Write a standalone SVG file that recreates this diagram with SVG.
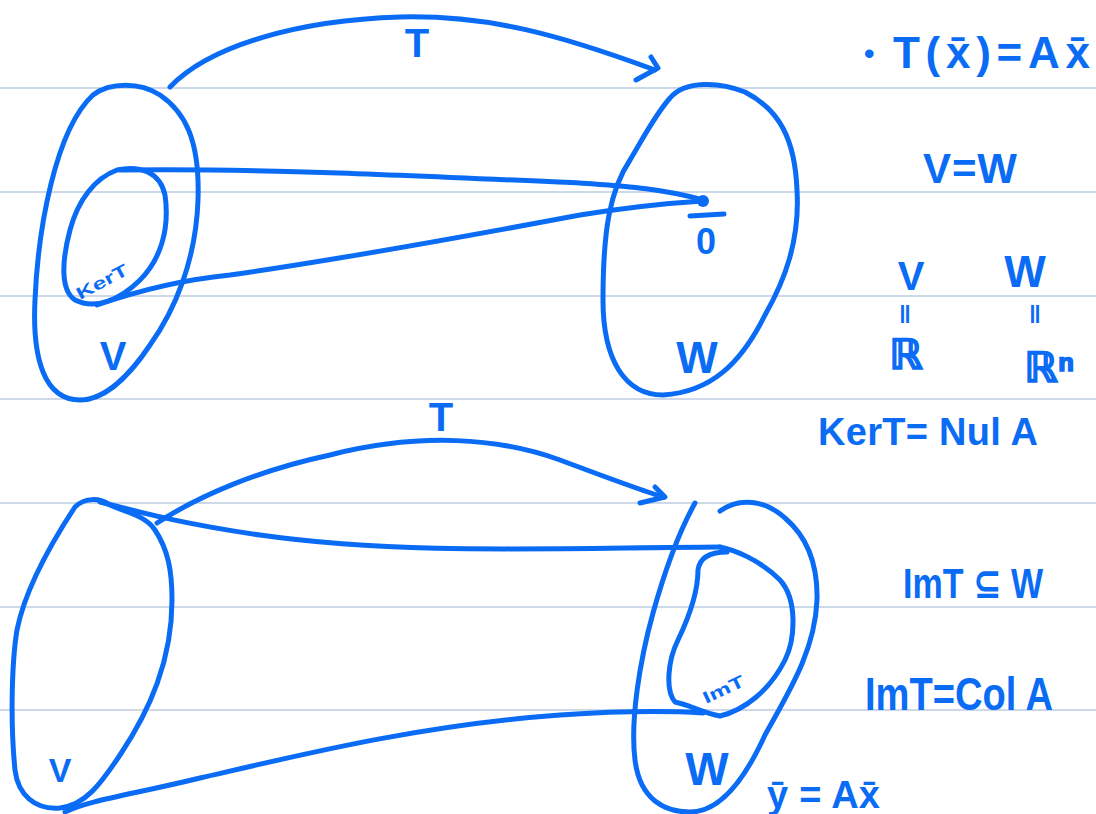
<svg xmlns="http://www.w3.org/2000/svg" width="1096" height="814" viewBox="0 0 1096 814">
<style>
.rule{stroke:#bccbe0;stroke-width:1.5}
.ink{fill:none;stroke:#0a6cf5;stroke-width:5;stroke-linecap:round;stroke-linejoin:round}
.t{fill:#0a6cf5;font-family:"Liberation Sans","DejaVu Sans",sans-serif;font-weight:bold}
.m{text-anchor:middle}
.heavy{stroke:#0a6cf5;stroke-width:1.6}
</style>
<rect width="1096" height="814" fill="#ffffff"/>
<g id="rules">
<line class="rule" x1="0" y1="88" x2="1096" y2="88"/>
<line class="rule" x1="0" y1="192" x2="1096" y2="192"/>
<line class="rule" x1="0" y1="296" x2="1096" y2="296"/>
<line class="rule" x1="0" y1="399" x2="1096" y2="399"/>
<line class="rule" x1="0" y1="503" x2="1096" y2="503"/>
<line class="rule" x1="0" y1="607" x2="1096" y2="607"/>
<line class="rule" x1="0" y1="710" x2="1096" y2="710"/>
</g>
<g id="V_top">
<path class="ink" d="M 93,95 C 110,82 140,82 160,95 C 185,112 200,140 198,200 C 196,260 175,310 150,345 C 130,375 105,400 80,400 C 45,400 32,360 35,300 C 38,230 55,130 93,95 Z"/>
<text class="t m" x="113" y="370" font-size="40">V</text>
</g>
<g id="kerT">
<path class="ink" d="M 117,170 C 140,165 160,172 165,195 C 170,230 160,260 140,280 C 120,300 95,310 75,300 C 60,290 62,260 70,230 C 78,200 95,178 117,170 Z"/>
<text class="t" x="0" y="0" font-size="17" transform="translate(80,300) rotate(-28)" textLength="56" lengthAdjust="spacingAndGlyphs">KerT</text>
</g>
<g id="W_top">
<path class="ink" d="M 670,98 C 685,80 720,82 745,92 C 780,110 795,140 797,190 C 800,240 785,280 765,315 C 740,365 710,392 663,395 C 625,395 603,360 603,300 C 603,230 610,190 630,160 C 645,135 655,115 670,98 Z"/>
<circle cx="703" cy="201" r="6" fill="#0a6cf5"/>
<line class="ink" x1="690" y1="216" x2="724" y2="214"/>
<text class="t m" x="706" y="254" font-size="36">0</text>
<text class="t m" x="697" y="373" font-size="44">W</text>
</g>
<g id="V_bottom">
<path class="ink" d="M 75,507 C 85,497 100,498 110,505 C 125,512 145,515 155,530 C 168,550 172,570 172,600 C 172,660 150,710 120,755 C 100,785 85,805 60,808 C 35,810 18,795 15,770 C 10,720 12,660 17,630 C 25,590 50,545 75,507 Z"/>
<text class="t m" x="60" y="782" font-size="34">V</text>
</g>
<g id="W_bottom">
<path class="ink" d="M 695,503 C 680,530 665,570 653,613 C 640,660 630,720 635,760 C 640,800 665,812 690,812 C 715,812 740,790 765,735 C 790,690 815,650 817,600 C 818,560 805,535 785,518 C 765,500 740,497 720,511"/>
<text class="t m" x="707" y="785" font-size="46">W</text>
</g>
<g id="imT">
<path class="ink" d="M 720,547 C 735,550 760,560 780,580 C 798,600 795,640 785,660 C 770,690 745,710 720,716 C 700,712 690,705 675,702 C 665,690 668,660 678,640 C 690,615 698,590 698,570 C 700,555 715,552 727,552"/>
<text class="t" x="0" y="0" font-size="17" transform="translate(706,704) rotate(-25)" textLength="44" lengthAdjust="spacingAndGlyphs">ImT</text>
</g>
<g id="connectors">
<path class="ink" d="M 170,87 C 210,45 300,20 400,17 C 490,15 560,35 655,70"/>
<path class="ink" d="M 651,57 L 658,68 L 636,80"/>
<text class="t m" x="417" y="57" font-size="40">T</text>
<path class="ink" d="M 120,170 C 250,168 400,175 580,183 C 620,186 660,188 703,200"/>
<path class="ink" d="M 97,305 C 140,290 180,280 230,275 C 350,258 500,230 580,215 C 630,207 670,203 703,201"/>
<path class="ink" d="M 157,523 C 200,495 260,470 330,455 C 420,432 500,438 560,460 C 600,475 640,490 663,497"/>
<path class="ink" d="M 655,487 L 665,497 L 640,503"/>
<text class="t m" x="441" y="431" font-size="40">T</text>
<path class="ink" d="M 100,502 C 150,515 190,525 260,535 C 400,555 550,548 720,547"/>
<path class="ink" d="M 65,812 C 90,800 130,795 200,778 C 300,755 420,725 560,715 C 620,711 670,711 703,713"/>
</g>
<g id="notes">
<text class="t" x="864" y="64" font-size="30">•</text>
<text class="t" x="893" y="68" font-size="44" textLength="197" lengthAdjust="spacing">T(x̄)=Ax̄</text>
<text class="t" x="923" y="183" font-size="42" textLength="94" lengthAdjust="spacing">V=W</text>
<text class="t m" x="911" y="290" font-size="40">V</text>
<text class="t m" x="1025" y="287" font-size="44">W</text>
<text class="t m" x="905" y="323" font-size="24">‖</text>
<text class="t m" x="1035" y="323" font-size="24">‖</text>
<text class="t heavy" x="889" y="369" font-size="42">ℝ</text>
<text class="t heavy" x="1024" y="382" font-size="42">ℝⁿ</text>
<text class="t" x="818" y="445" font-size="38" textLength="220" lengthAdjust="spacing">KerT= Nul A</text>
<text class="t" x="903" y="598" font-size="42" textLength="140" lengthAdjust="spacingAndGlyphs">ImT ⊆ W</text>
<text class="t" x="865" y="710" font-size="46" textLength="188" lengthAdjust="spacingAndGlyphs">ImT=Col A</text>
<text class="t" x="767" y="808" font-size="38" textLength="113" lengthAdjust="spacing">ȳ = Ax̄</text>
</g>
</svg>
